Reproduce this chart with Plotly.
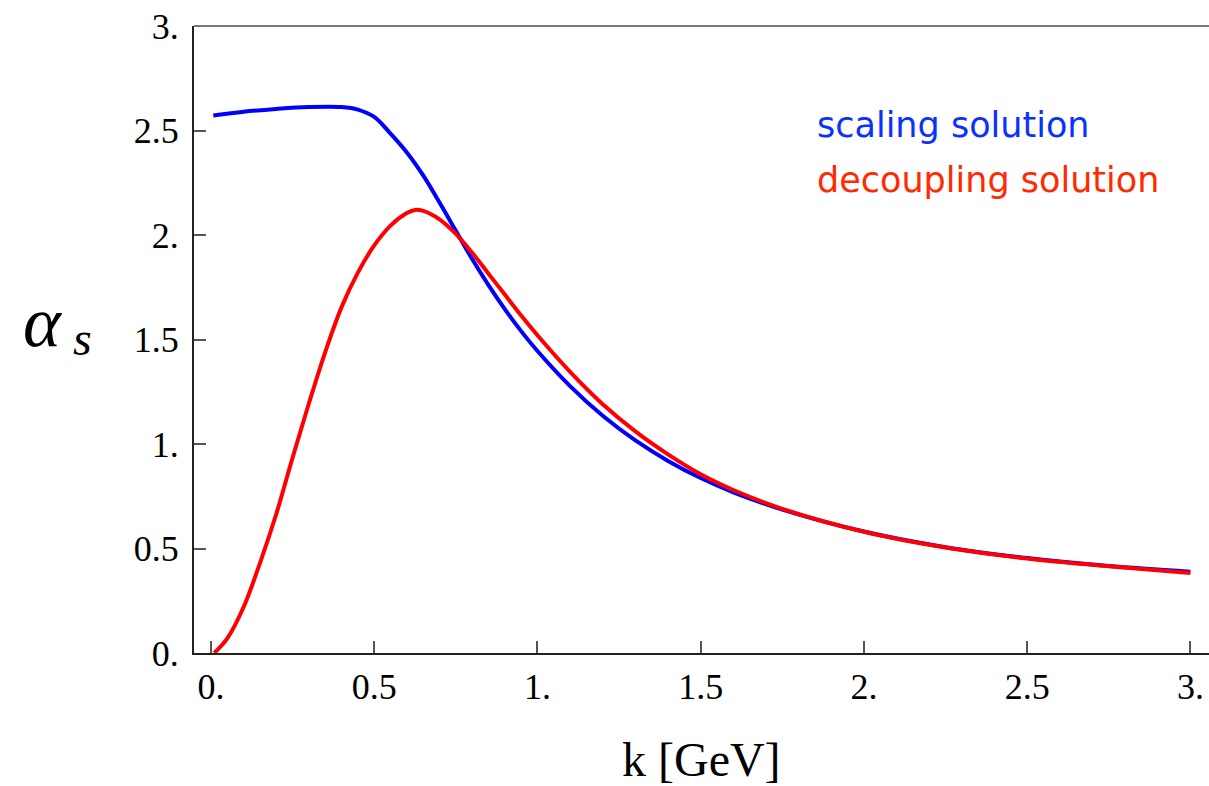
import plotly.graph_objects as go

# Running coupling alpha_s(k) for the two infrared solutions
k_scaling = [0.007, 0.1, 0.2, 0.3, 0.4, 0.45, 0.5, 0.55, 0.6, 0.65, 0.7, 0.75, 0.8,
             0.85, 0.9, 0.95, 1.0, 1.1, 1.2, 1.3, 1.4, 1.5, 1.6, 1.75, 2.0, 2.25,
             2.5, 2.75, 3.0]
alpha_scaling = [2.572, 2.590, 2.603, 2.612, 2.612, 2.600, 2.565, 2.485, 2.395, 2.285,
                 2.155, 2.020, 1.885, 1.760, 1.645, 1.540, 1.445, 1.277, 1.135, 1.017,
                 0.919, 0.837, 0.769, 0.686, 0.581, 0.506, 0.454, 0.416, 0.389]

k_decoupling = [0.01, 0.05, 0.1, 0.15, 0.2, 0.25, 0.3, 0.35, 0.4, 0.45, 0.5, 0.55,
                0.6, 0.625, 0.65, 0.7, 0.75, 0.8, 0.85, 0.9, 0.95, 1.0, 1.1, 1.2,
                1.3, 1.4, 1.5, 1.6, 1.75, 2.0, 2.25, 2.5, 2.75, 3.0]
alpha_decoupling = [0.0, 0.07, 0.22, 0.43, 0.665, 0.935, 1.195, 1.44, 1.655, 1.82,
                    1.95, 2.045, 2.105, 2.12, 2.115, 2.075, 2.005, 1.915, 1.815, 1.715,
                    1.615, 1.52, 1.345, 1.19, 1.06, 0.95, 0.855, 0.78, 0.69, 0.58,
                    0.505, 0.452, 0.415, 0.383]

tick_vals = [0, 0.5, 1, 1.5, 2, 2.5, 3]
tick_text = ["0.", "0.5", "1.", "1.5", "2.", "2.5", "3."]

series_names = ["scaling solution", "decoupling solution"]
line_colors = ["#0000ff", "#ff0000"]
label_colors = ["#0a32ff", "#ff2a00"]

fig = go.Figure()
fig.add_trace(go.Scatter(x=k_scaling, y=alpha_scaling, mode="lines",
                         line=dict(color=line_colors[0], width=4, shape="spline", smoothing=1),
                         name=series_names[0], showlegend=False))
fig.add_trace(go.Scatter(x=k_decoupling, y=alpha_decoupling, mode="lines",
                         line=dict(color=line_colors[1], width=4, shape="spline", smoothing=1),
                         name=series_names[1], showlegend=False))

tick_font = dict(family="Liberation Serif", size=36, color="black")

fig.update_xaxes(range=[-0.052, 3.057], tickvals=tick_vals, ticktext=tick_text,
                 ticks="inside", ticklen=12, tickwidth=1.5, tickcolor="#555",
                 showline=True, linecolor="#222", linewidth=2, showgrid=False,
                 zeroline=False, tickfont=tick_font, ticklabelstandoff=1)
fig.update_yaxes(range=[0, 3], tickvals=tick_vals, ticktext=tick_text,
                 ticks="inside", ticklen=12, tickwidth=1.5, tickcolor="#555",
                 showline=True, linecolor="#222", linewidth=2, showgrid=False,
                 zeroline=False, tickfont=tick_font, ticklabelstandoff=6)

# grey top edge of the frame
fig.add_shape(type="line", xref="paper", yref="paper", x0=0, x1=1, y0=1, y1=1,
              line=dict(color="#777", width=2))

serif = "Liberation Serif"
sans = "DejaVu Sans"
annotations = [
    dict(text="k [GeV]", x=0.5, y=-0.170, xref="paper", yref="paper",
         xanchor="center", yanchor="middle", showarrow=False,
         font=dict(family=serif, size=48, color="black")),
    dict(text="<i>α</i>", x=-0.1488, y=0.528, xref="paper", yref="paper",
         xanchor="center", yanchor="middle", showarrow=False,
         font=dict(family=serif, size=72, color="black")),
    dict(text="<i>s</i>", x=-0.1103, y=0.501, xref="paper", yref="paper",
         xanchor="center", yanchor="middle", showarrow=False,
         font=dict(family=serif, size=48, color="black")),
    dict(text=series_names[0], x=0.612, y=0.842, xref="paper", yref="paper",
         xanchor="left", yanchor="middle", showarrow=False,
         font=dict(family=sans, size=35, color=label_colors[0])),
    dict(text=series_names[1], x=0.612, y=0.755, xref="paper", yref="paper",
         xanchor="left", yanchor="middle", showarrow=False,
         font=dict(family=sans, size=35, color=label_colors[1])),
]

fig.update_layout(width=1209, height=786, autosize=False,
                  margin=dict(l=194, r=0, t=26, b=133),
                  paper_bgcolor="white", plot_bgcolor="white",
                  annotations=annotations)

fig.write_html("out.html")
